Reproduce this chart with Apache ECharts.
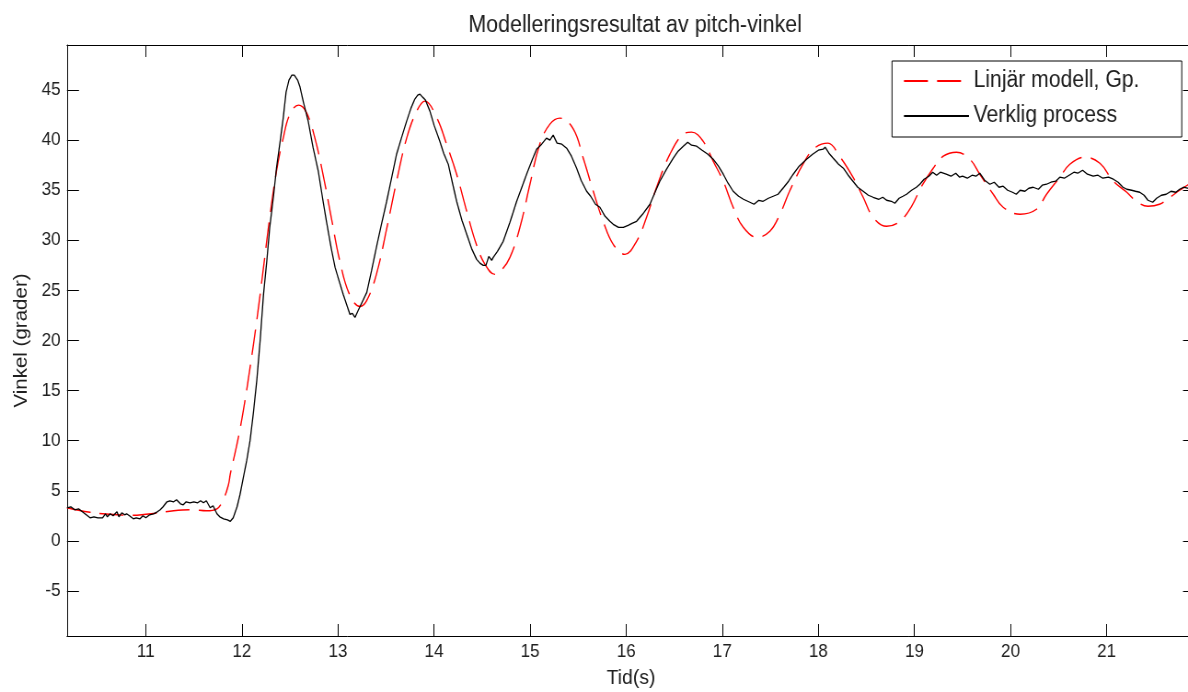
<!DOCTYPE html>
<html>
<head>
<meta charset="utf-8">
<title>Modelleringsresultat av pitch-vinkel</title>
<script src="https://cdn.jsdelivr.net/npm/echarts@6/dist/echarts.min.js"></script>
<style>
  html, body { margin: 0; padding: 0; background: #fff; overflow: hidden; }
  #wrap { width: 1188px; height: 692px; overflow: hidden; }
  /* the original figure is slightly squeezed sideways, so the chart is drawn wider and scaled back */
  #chart { width: 1291px; height: 692px; transform: scaleX(0.92022); transform-origin: 0 0; }
</style>
</head>
<body>
<div id="wrap"><div id="chart"></div></div>
<script>
// tick labels
var xTicks = [11, 12, 13, 14, 15, 16, 17, 18, 19, 20, 21];
var yTicks = [-5, 0, 5, 10, 15, 20, 25, 30, 35, 40, 45];

// Linjär modell, Gp. -> [tid, vinkel]
var modelPoints = [
  [10.18, 3.3], [10.30, 3.05], [10.42, 2.85], [10.55, 2.7], [10.70, 2.6], [10.87, 2.55],
  [11.00, 2.65], [11.10, 2.75], [11.29, 3.0], [11.49, 3.1], [11.63, 3.0], [11.74, 3.2],
  [11.81, 4.2], [11.86, 5.6], [11.88, 6.7], [11.95, 9.7], [12.015, 13.0], [12.085, 17.3],
  [12.155, 22.0], [12.225, 27.3], [12.29, 32.3], [12.36, 36.9], [12.43, 40.2], [12.50, 42.6],
  [12.59, 43.5], [12.67, 42.8], [12.76, 40.2], [12.85, 36.3], [12.93, 32.3], [13.02, 27.9],
  [13.12, 24.6], [13.23, 23.4], [13.30, 24.0], [13.40, 26.6], [13.51, 31.3], [13.61, 35.9],
  [13.715, 40.2], [13.82, 42.9], [13.905, 43.9], [14.03, 42.2], [14.13, 39.6], [14.235, 36.6],
  [14.34, 32.9], [14.44, 29.6], [14.53, 27.6], [14.634, 26.6], [14.70, 27.0], [14.79, 28.3],
  [14.894, 31.3], [14.998, 35.6], [15.10, 39.6], [15.206, 41.6], [15.31, 42.2], [15.45, 41.1],
  [15.553, 38.2], [15.657, 34.9], [15.76, 31.9], [15.865, 29.6], [15.986, 28.6], [16.108, 29.9],
  [16.212, 32.3], [16.316, 35.3], [16.455, 38.6], [16.594, 40.6], [16.68, 40.8], [16.80, 39.9],
  [16.905, 37.9], [17.01, 35.9], [17.113, 33.3], [17.218, 31.3], [17.36, 30.3], [17.495, 30.9],
  [17.60, 32.6], [17.70, 34.9], [17.84, 37.6], [17.96, 39.2], [18.10, 39.7], [18.22, 38.4],
  [18.36, 36.3], [18.466, 34.3], [18.57, 32.3], [18.71, 31.4], [18.848, 31.9], [18.97, 33.4],
  [19.075, 35.4], [19.195, 37.2], [19.30, 38.4], [19.437, 38.8], [19.576, 38.1], [19.68, 36.6],
  [19.82, 34.6], [19.923, 33.3], [20.10, 32.6], [20.27, 33.1], [20.375, 34.6], [20.513, 36.3],
  [20.617, 37.6], [20.77, 38.3], [20.93, 37.7], [21.07, 35.9], [21.21, 34.8], [21.31, 33.9],
  [21.43, 33.4], [21.55, 33.6], [21.66, 34.3], [21.76, 35.0], [21.84, 35.5], [21.92, 36.0]
];

// Verklig process -> [tid, vinkel]
var processPoints = [
  [10.18, 3.3], [10.22, 3.4], [10.26, 3.1], [10.30, 3.2], [10.34, 2.9], [10.38, 2.6],
  [10.42, 2.3], [10.46, 2.4], [10.50, 2.3], [10.55, 2.3], [10.58, 2.7], [10.60, 2.4],
  [10.63, 2.7], [10.66, 2.5], [10.70, 2.9], [10.72, 2.4], [10.75, 2.8], [10.78, 2.6],
  [10.80, 2.7], [10.83, 2.5], [10.87, 2.2], [10.90, 2.3], [10.94, 2.2], [10.97, 2.5],
  [11.00, 2.3], [11.04, 2.6], [11.08, 2.7], [11.12, 2.9], [11.15, 3.1], [11.18, 3.4],
  [11.22, 3.9], [11.25, 4.0], [11.29, 3.9], [11.32, 4.1], [11.36, 3.7], [11.39, 3.6],
  [11.42, 3.9], [11.46, 3.8], [11.50, 3.9], [11.54, 3.8], [11.57, 4.0], [11.60, 3.8],
  [11.63, 4.0], [11.67, 3.3], [11.70, 3.5], [11.74, 2.7], [11.77, 2.4], [11.81, 2.2],
  [11.85, 2.1], [11.88, 1.95], [11.91, 2.3], [11.95, 3.4], [11.98, 4.6], [12.015, 6.3],
  [12.05, 8.0], [12.085, 10.0], [12.12, 12.8], [12.155, 16.0], [12.19, 20.0], [12.225, 24.6],
  [12.26, 28.0], [12.29, 31.3], [12.33, 34.5], [12.36, 37.2], [12.40, 40.0], [12.43, 42.2],
  [12.46, 44.8], [12.49, 46.0], [12.52, 46.5], [12.545, 46.5], [12.58, 46.0], [12.605, 45.3],
  [12.64, 43.8], [12.69, 41.9], [12.74, 39.3], [12.795, 36.9], [12.84, 34.2], [12.88, 31.9],
  [12.93, 29.2], [12.97, 27.3], [13.01, 26.0], [13.055, 24.6], [13.09, 23.6], [13.125, 22.6],
  [13.15, 22.7], [13.177, 22.3], [13.21, 23.0], [13.25, 23.8], [13.30, 24.8], [13.35, 27.0],
  [13.40, 29.3], [13.45, 31.5], [13.507, 33.9], [13.56, 36.3], [13.61, 38.6], [13.66, 40.2],
  [13.715, 41.9], [13.76, 43.2], [13.80, 44.1], [13.83, 44.5], [13.853, 44.6], [13.88, 44.3],
  [13.91, 44.0], [13.957, 42.9], [14.00, 41.5], [14.06, 39.9], [14.10, 38.7], [14.148, 37.6],
  [14.19, 35.8], [14.235, 33.9], [14.29, 32.0], [14.34, 30.6], [14.39, 29.2], [14.443, 28.1],
  [14.48, 27.7], [14.512, 27.5], [14.54, 27.5], [14.57, 28.4], [14.60, 28.0], [14.616, 28.3],
  [14.66, 28.9], [14.72, 29.9], [14.79, 31.8], [14.86, 33.9], [14.91, 35.2], [14.963, 36.6],
  [15.02, 38.0], [15.067, 39.1], [15.12, 39.6], [15.17, 40.2], [15.206, 40.0], [15.24, 40.5],
  [15.28, 39.7], [15.33, 39.6], [15.38, 39.2], [15.43, 38.4], [15.484, 37.2], [15.53, 36.0],
  [15.588, 34.9], [15.63, 34.4], [15.68, 33.6], [15.726, 33.3], [15.78, 32.4], [15.83, 31.9],
  [15.865, 31.6], [15.92, 31.3], [15.97, 31.3], [16.02, 31.5], [16.06, 31.7], [16.108, 31.9],
  [16.17, 32.6], [16.247, 33.6], [16.30, 34.8], [16.35, 35.9], [16.42, 37.1], [16.49, 38.2],
  [16.54, 38.9], [16.594, 39.4], [16.64, 39.8], [16.68, 39.5], [16.733, 39.4], [16.79, 39.0],
  [16.85, 38.6], [16.905, 38.1], [16.96, 37.4], [17.01, 36.6], [17.06, 35.7], [17.113, 34.9],
  [17.17, 34.4], [17.22, 34.1], [17.287, 33.8], [17.33, 33.6], [17.38, 34.0], [17.425, 33.9],
  [17.48, 34.2], [17.53, 34.4], [17.58, 34.6], [17.64, 35.3], [17.69, 35.9], [17.738, 36.6],
  [17.80, 37.4], [17.877, 38.1], [17.94, 38.6], [18.00, 39.0], [18.05, 39.1], [18.07, 39.3],
  [18.11, 38.7], [18.155, 38.2], [18.21, 37.6], [18.26, 37.2], [18.31, 36.5], [18.36, 35.9],
  [18.41, 35.3], [18.466, 34.9], [18.52, 34.5], [18.57, 34.3], [18.63, 34.1], [18.67, 34.3],
  [18.71, 34.0], [18.76, 33.9], [18.796, 33.7], [18.84, 34.2], [18.88, 34.4], [18.918, 34.6],
  [18.97, 35.0], [19.02, 35.3], [19.056, 35.6], [19.10, 36.1], [19.15, 36.4], [19.19, 36.8],
  [19.23, 36.5], [19.27, 36.8], [19.33, 36.6], [19.38, 36.4], [19.43, 36.7], [19.47, 36.3],
  [19.50, 36.4], [19.55, 36.2], [19.60, 36.5], [19.64, 36.4], [19.68, 36.7], [19.73, 36.0],
  [19.785, 35.6], [19.83, 35.8], [19.88, 35.3], [19.923, 35.4], [19.97, 35.0], [20.02, 34.8],
  [20.06, 34.6], [20.10, 35.0], [20.15, 34.9], [20.19, 35.2], [20.235, 35.3], [20.29, 35.1],
  [20.33, 35.5], [20.375, 35.6], [20.42, 35.8], [20.47, 35.9], [20.513, 36.3], [20.56, 36.2],
  [20.61, 36.5], [20.66, 36.8], [20.70, 36.7], [20.75, 37.0], [20.80, 36.6], [20.86, 36.4],
  [20.91, 36.5], [20.96, 36.2], [21.02, 36.3], [21.07, 36.1], [21.12, 35.8], [21.17, 35.3],
  [21.21, 35.1], [21.26, 35.0], [21.30, 34.9], [21.345, 34.8], [21.39, 34.5], [21.43, 34.0],
  [21.48, 33.8], [21.52, 34.2], [21.57, 34.5], [21.62, 34.6], [21.67, 34.9], [21.72, 34.8],
  [21.76, 35.1], [21.80, 35.3], [21.84, 35.2], [21.92, 35.4]
];

var SX = 0.92022;   // horizontal squeeze of the page
function px(x) { return x / SX; }   // picture x -> chart x

var font = 'Arial, "Liberation Sans", sans-serif';
var textColor = '#202020';
var chart = echarts.init(document.getElementById('chart'), null, { renderer: 'canvas' });

// box axes, ticks pointing inwards like matlab
function boxAxis(pos, isX, showLabel, name) {
  var ax = {
    type: 'value',
    position: pos,
    min: isX ? 10.18 : -9.5,
    max: isX ? 21.92 : 49.5,
    splitLine: { show: false },
    axisLine: { show: true, onZero: false, lineStyle: { color: '#000', width: 1 } },
    axisTick: { show: true, inside: true, length: isX ? 12 : 13, customValues: isX ? xTicks : yTicks,
      lineStyle: { color: '#000', width: 1 } },
    axisLabel: { show: showLabel, customValues: isX ? xTicks : yTicks, margin: isX ? 6 : 7,
      color: textColor, fontSize: 18.5, fontFamily: font }
  };
  if (name) {
    ax.name = name;
    ax.nameLocation = 'middle';
    ax.nameGap = isX ? 32 : 31;
    ax.nameTextStyle = { color: textColor, fontSize: isX ? 21 : 20.5, fontFamily: font };
  }
  return ax;
}

var option = {
  animation: false,
  backgroundColor: '#fff',
  title: {
    text: 'Modelleringsresultat av pitch-vinkel',
    left: px(630.5),
    top: 9,
    textAlign: 'center',
    textStyle: { color: textColor, fontSize: 23.3, fontWeight: 'normal', fontFamily: font }
  },
  grid: { left: px(67), top: 45, right: 1291 - px(1195), bottom: 56, outerBoundsMode: 'none' },
  legend: {
    orient: 'vertical',
    left: px(892),
    top: 61,
    padding: [8, 46, 9, 12],
    itemWidth: px(65),
    itemHeight: 24,
    itemGap: 11,
    backgroundColor: '#fff',
    borderColor: '#000',
    borderWidth: 1,
    borderRadius: 0,
    itemStyle: { color: 'transparent', borderColor: 'transparent', borderWidth: 0, opacity: 0 },
    textStyle: { color: textColor, fontSize: 23, fontFamily: font, lineHeight: 24 },
    data: ['Linjär modell, Gp.', 'Verklig process']
  },
  xAxis: [boxAxis('bottom', true, true, 'Tid(s)'), boxAxis('top', true, false)],
  yAxis: [boxAxis('left', false, true, 'Vinkel (grader)'), boxAxis('right', false, false)],
  series: [
    {
      name: 'Linjär modell, Gp.',
      type: 'line',
      data: modelPoints,
      showSymbol: false,
      smooth: 0.4,
      lineStyle: { color: '#ff0000', width: 1.4, type: [26, 10] },
      itemStyle: { color: '#ff0000' }
    },
    {
      name: 'Verklig process',
      type: 'line',
      data: processPoints,
      showSymbol: false,
      lineStyle: { color: '#000', width: 1.3 },
      itemStyle: { color: '#000' }
    }
  ]
};

chart.setOption(option);
</script>
</body>
</html>
